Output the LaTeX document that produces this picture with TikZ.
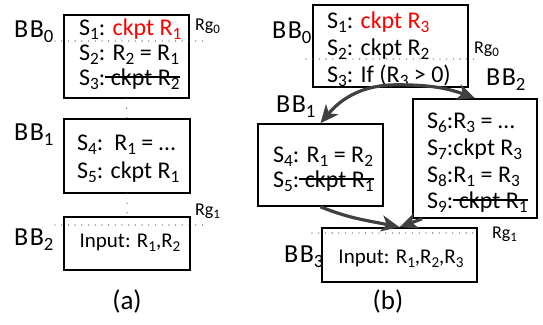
\documentclass[tikz,border=0pt]{standalone}
\usepackage{fontspec}
\setmainfont{Carlito}
\usetikzlibrary{arrows.meta}
\definecolor{arrgray}{HTML}{404040}
\definecolor{dotgray}{HTML}{505050}
\definecolor{ckred}{HTML}{FF0000}
\newcommand\lo[1]{\raisebox{-0.2em}{\scalebox{0.72}{#1}}}
\newsavebox\strkbox
\newcommand\strk[1]{\sbox\strkbox{#1}\rlap{\usebox\strkbox}\rule[0.3em]{\wd\strkbox}{0.07em}}
\newcommand\BBl[1]{B\kern1.5pt B\lo{#1}}
\begin{document}
\begin{tikzpicture}[x=1pt,y=1pt,
  box/.style={draw, line width=1.6pt, inner sep=0pt},
  txt/.style={anchor=base west, inner sep=0pt, font=\fontsize{24}{28}\selectfont},
  bblab/.style={anchor=base west, inner sep=0pt, font=\fontsize{26}{30}\selectfont},
  rglab/.style={anchor=base west, inner sep=0pt, font=\fontsize{18}{21}\selectfont},
  inp/.style={anchor=base, inner sep=0pt, font=\fontsize{21}{24}\selectfont},
  capt/.style={inner sep=0pt, font=\fontsize{27}{30}\selectfont},
  sep/.style={dotgray, line width=1.3pt, line cap=round, dash pattern=on 0pt off 6.7pt},
  vsep/.style={dotgray, line width=1.3pt, line cap=round, dash pattern=on 0pt off 9.5pt},
  arr/.style={arrgray, line width=3.2pt, -{Stealth[length=18pt,width=16pt,inset=5pt]}}]
\useasboundingbox (0,0) rectangle (543,-324);

% ---------- (a) ----------
\node[box, minimum width=125pt, minimum height=83pt] (a0) at (126.5,-56.5) {};
\node[box, minimum width=126pt, minimum height=74pt] (a1) at (127,-156) {};
\node[box, minimum width=126pt, minimum height=53pt] (a2) at (127,-243.5) {};

\node[bblab] (la0) at (14,-37) {\BBl{0}};
\node[bblab] (la1) at (14,-140) {\BBl{1}};
\node[bblab] (la2) at (14,-245) {\BBl{2}};

\node[txt] (as1) at (79,-35) {S\lo{1}: \textcolor{ckred}{ckpt R\lo{1}}};
\node[txt] (as2) at (79,-60) {S\lo{2}: R\lo{2} = R\lo{1}};
\node[txt] (as3) at (79,-85) {S\lo{3}:\strk{ ckpt R\lo{2}}};
\node[txt] (as4) at (77,-150) {S\lo{4}:\ \ R\lo{1} = …};
\node[txt] (as5) at (77,-178) {S\lo{5}: ckpt R\lo{1}};
\node[inp] (ain) at (130,-247) {Input: R\lo{1},R\lo{2}};

\coordinate (ra0l) at (55,-41);
\coordinate (ra0r) at (208,-41);
\coordinate (ra1l) at (55,-225);
\coordinate (ra1r) at (208,-225);
\draw[sep] (ra0l) -- (ra0r);
\draw[sep] (ra1l) -- (ra1r);
\node[rglab] (rga0) at (195,-30) {Rg\lo{0}};
\node[rglab] (rga1) at (195,-215) {Rg\lo{1}};
\draw[vsep] (a0.south) -- (a1.north);
\draw[vsep] (a1.south) -- (a2.north);

\node[capt] (capa) at (127,-301) {(a)};

% ---------- (b) ----------
\node[box, minimum width=155pt, minimum height=82pt] (b0) at (390.5,-46) {};
\node[box, minimum width=125pt, minimum height=82pt] (b1) at (320.5,-165) {};
\node[box, minimum width=124pt, minimum height=119pt] (b2) at (475,-158.5) {};
\node[box, minimum width=155pt, minimum height=54pt] (b3) at (399.5,-255) {};

\node[bblab] (lb0) at (272,-38) {\BBl{0}};
\node[bblab] (lb1) at (276,-112) {\BBl{1}};
\node[bblab] (lb2) at (486,-85) {\BBl{2}};
\node[bblab] (lb3) at (284,-262) {\BBl{3}};

\node[txt] (bs1) at (327,-28) {S\lo{1}: \textcolor{ckred}{ckpt R\lo{3}}};
\node[txt] (bs2) at (327,-55) {S\lo{2}: ckpt R\lo{2}};
\node[txt] (bs3) at (327,-82) {S\lo{3}: If (R\lo{3} > 0)};
\node[txt] (bs4) at (273,-162) {S\lo{4}: R\lo{1} = R\lo{2}};
\node[txt] (bs5) at (273,-187) {S\lo{5}:\strk{ ckpt R\lo{1}}};
\node[txt] (bs6) at (427,-128) {S\lo{6}:R\lo{3} = …};
\node[txt] (bs7) at (427,-155) {S\lo{7}:ckpt R\lo{3}};
\node[txt] (bs8) at (427,-182) {S\lo{8}:R\lo{1} = R\lo{3}};
\node[txt] (bs9) at (427,-208) {S\lo{9}:\strk{ ckpt R\lo{1}}};
\node[inp] (bin) at (401,-263) {Input: R\lo{1},R\lo{2},R\lo{3}};

\coordinate (rb0l) at (306,-59);
\coordinate (rb0r) at (475,-59);
\coordinate (rb1l) at (312,-233);
\coordinate (rb1r) at (478,-233);
\draw[sep] (rb0l) -- (rb0r);
\draw[sep] (rb1l) -- (rb1r);
\node[rglab] (rgb0) at (474,-53) {Rg\lo{0}};
\node[rglab] (rgb1) at (492,-238) {Rg\lo{1}};

\node[capt] (capb) at (388,-301) {(b)};

% arrows
\coordinate (fork) at ([shift={(6.5,3)}]b0.south);
\draw[arr] (fork) to[out=180,in=50] (b1.north);
\draw[arr] (fork) to[out=0,in=160] (b2.north);
\draw[arr] (b1.south) to[out=-22,in=168] (b3.north);
\draw[arr] ([xshift=-53pt]b2.south) -- (b3.north);
\end{tikzpicture}
\end{document}
